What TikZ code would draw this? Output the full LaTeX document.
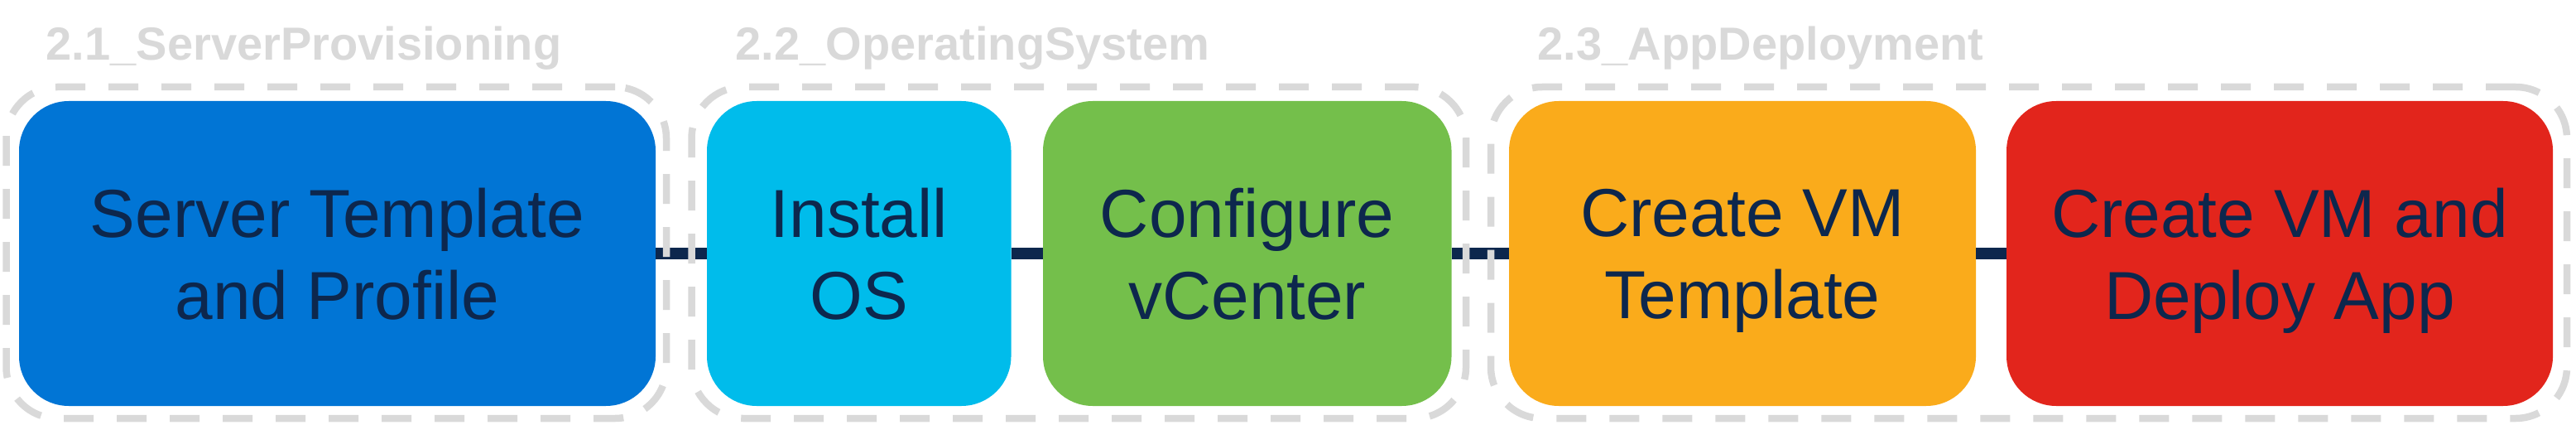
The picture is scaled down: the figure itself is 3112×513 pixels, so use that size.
\documentclass[tikz,border=0pt]{standalone}
\usepackage{fontspec}
\setmainfont{Liberation Sans}
\usepackage{xcolor}
\definecolor{ciscoBlue}{HTML}{0175D5}
\definecolor{ciscoCyan}{HTML}{00BCEB}
\definecolor{ciscoGreen}{HTML}{74BF4B}
\definecolor{ciscoOrange}{HTML}{FAAB1B}
\definecolor{ciscoRed}{HTML}{E2251C}
\definecolor{navy}{HTML}{0D274D}
\definecolor{groupGray}{HTML}{D9D9D9}

\begin{document}
\begin{tikzpicture}[x=0.25pt,y=-0.25pt]
%style for step box
\tikzstyle{stepbox} = [rectangle, rounded corners=15pt, inner sep=0pt, outer sep=0pt, minimum height=92pt, text=navy, align=center, text depth=0pt, font=\fontsize{20.5}{24.75}\selectfont]

%style for group outline
\tikzstyle{grpbox} = [rectangle, rounded corners=15.5pt, draw=groupGray, line width=2.125pt, dash pattern=on 9pt off 7pt, minimum height=100pt, inner sep=0pt]

%style for group title
\tikzstyle{grptitle} = [anchor=base west, inner sep=0pt, text=groupGray, font=\bfseries\fontsize{14}{16.8}\selectfont]

%style for connector
\tikzstyle{link} = [draw=navy, line width=3.5pt]

\useasboundingbox (0,0) rectangle (3112,513);

%place step boxes
\node[stepbox, fill=ciscoBlue, minimum width=192.25pt](template) at (407.5,306) {Server Template\\and Profile};
\node[stepbox, fill=ciscoCyan, minimum width=91.875pt](installOS) at (1037.75,306) {Install\\OS};
\node[stepbox, fill=ciscoGreen, minimum width=123.375pt](vcenter) at (1506.75,306) {Configure\\vCenter};
\node[stepbox, fill=ciscoOrange, minimum width=141pt](vmTemplate) at (2105,306) {Create VM\\Template};
\node[stepbox, fill=ciscoRed, minimum width=165pt](deployApp) at (2754,306) {Create VM and\\Deploy App};

%connect step boxes
\draw[link] (template) -- (installOS);
\draw[link] (installOS) -- (vcenter);
\draw[link] (vcenter) -- (vmTemplate);
\draw[link] (vmTemplate) -- (deployApp);

%group outlines
\node[grpbox, minimum width=199.375pt](grpServer) at (406.25,305) {};
\node[grpbox, minimum width=233.875pt](grpOS) at (1303.25,305) {};
\node[grpbox, minimum width=325pt](grpApp) at (2451,305) {};

%group titles
\node[grptitle](ttlServer) at (55,73) {2.1\_ServerProvisioning};
\node[grptitle](ttlOS) at (888,73) {2.2\_OperatingSystem};
\node[grptitle](ttlApp) at (1857,73) {2.3\_AppDeployment};
\end{tikzpicture}
\end{document}
